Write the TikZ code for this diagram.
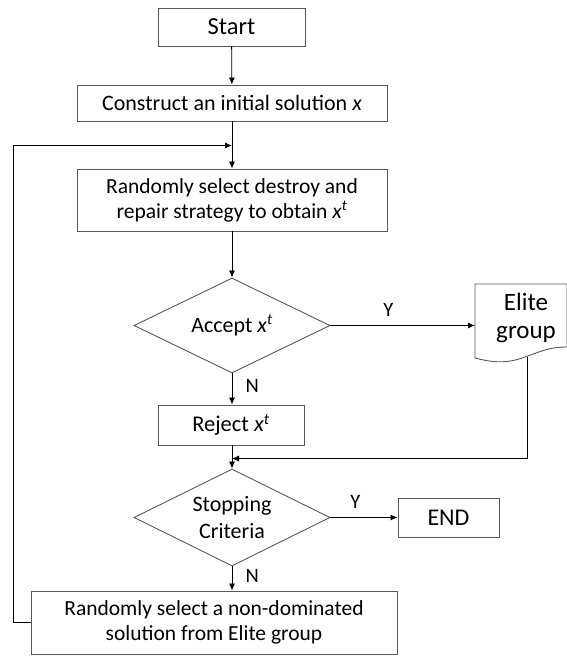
\documentclass[tikz,border=0pt]{standalone}
\usepackage{fontspec}
\setmainfont{Carlito}
\usetikzlibrary{arrows.meta,shapes.geometric}
\definecolor{edge}{HTML}{595959}
\definecolor{ink}{HTML}{000000}
\tikzset{
  box/.style={draw=edge, line width=0.9pt, fill=white, align=center, inner sep=0pt, font=\fontsize{21.5}{25}\selectfont},
  bigbox/.style={box, font=\fontsize{23}{27}\selectfont},
  decide/.style={diamond, draw=edge, line width=0.9pt, align=center, inner sep=0pt, shape aspect=2, minimum width=196pt, minimum height=95pt, font=\fontsize{22}{27}\selectfont},
  arr/.style={-{Latex[length=7pt,width=6pt]}, line width=0.8pt, ink},
  lbl/.style={font=\fontsize{20.5}{24}\selectfont},
}
\newcommand{\xt}{\textit{x}\textsuperscript{\textit{t}}}
\begin{document}
\begin{tikzpicture}[x=1pt,y=-1pt]
  \useasboundingbox (0,0) rectangle (567,656);
  \node[bigbox, minimum width=147pt, minimum height=38pt, font=\fontsize{24.5}{28}\selectfont] (start) at (231.5,27) {Start};
  \node[box, minimum width=310pt, minimum height=36pt, font=\fontsize{22}{25}\selectfont] (init) at (232,103) {Construct an initial solution \textit{x}};
  \node[box, minimum width=310pt, minimum height=62pt] (destroy) at (232,200) {Randomly select destroy and\\repair strategy to obtain \xt};
  \node[decide] (accept) at (232,325.5) {Accept \xt};
  \node[bigbox, minimum width=146pt, minimum height=40pt, font=\fontsize{22.5}{27}\selectfont] (reject) at (231,425) {Reject \xt};
  \node[decide, minimum height=97pt] (stop) at (232,517.5) {Stopping\\Criteria};
  \node[bigbox, minimum width=101pt, minimum height=39pt, font=\fontsize{24}{28}\selectfont] (end) at (448.5,518) {END};
  \node[box, minimum width=366pt, minimum height=63pt] (pick) at (214,622.5) {Randomly select a non-dominated\\solution from Elite group};
  % elite group drawn as a document shape
  \draw[edge, line width=0.9pt, fill=white] (475,284) -- (567,284) -- (567,347)
    .. controls (548,347) and (540,352) .. (522,358)
    .. controls (505,364) and (490,362) .. (475,358) -- cycle;
  \node[align=center, inner sep=0pt, minimum width=92pt, font=\fontsize{25}{28}\selectfont] (elite) at (526,318) {Elite\\group};
  \coordinate (loopin) at (232,145.5);
  \coordinate (eliteout) at (527,356.5);
  \coordinate (merge) at (232,458.5);
  \draw[arr] (start) -- (init);
  \draw[arr] (init) -- (destroy);
  \draw[arr] (pick.west) -- ++(-17,0) |- (loopin);
  \draw[arr] (destroy) -- (accept);
  \draw[arr] (accept.east) -- (accept.east -| 475,0) node[lbl, pos=0.4, above=5pt] {Y};
  \draw[arr] (accept.south) -- (accept.south |- reject.north) node[lbl, pos=0.4, right=10pt] {N};
  \draw[arr] (reject.south -| stop.north) -- (stop.north);
  \draw[arr] (eliteout) |- (merge);
  \draw[arr] (stop.east) -- (stop.east -| end.west) node[lbl, pos=0.37, above=5pt] {Y};
  \draw[arr] (stop.south) -- (stop.south |- pick.north) node[lbl, pos=0.4, right=10pt] {N};
\end{tikzpicture}
\end{document}
